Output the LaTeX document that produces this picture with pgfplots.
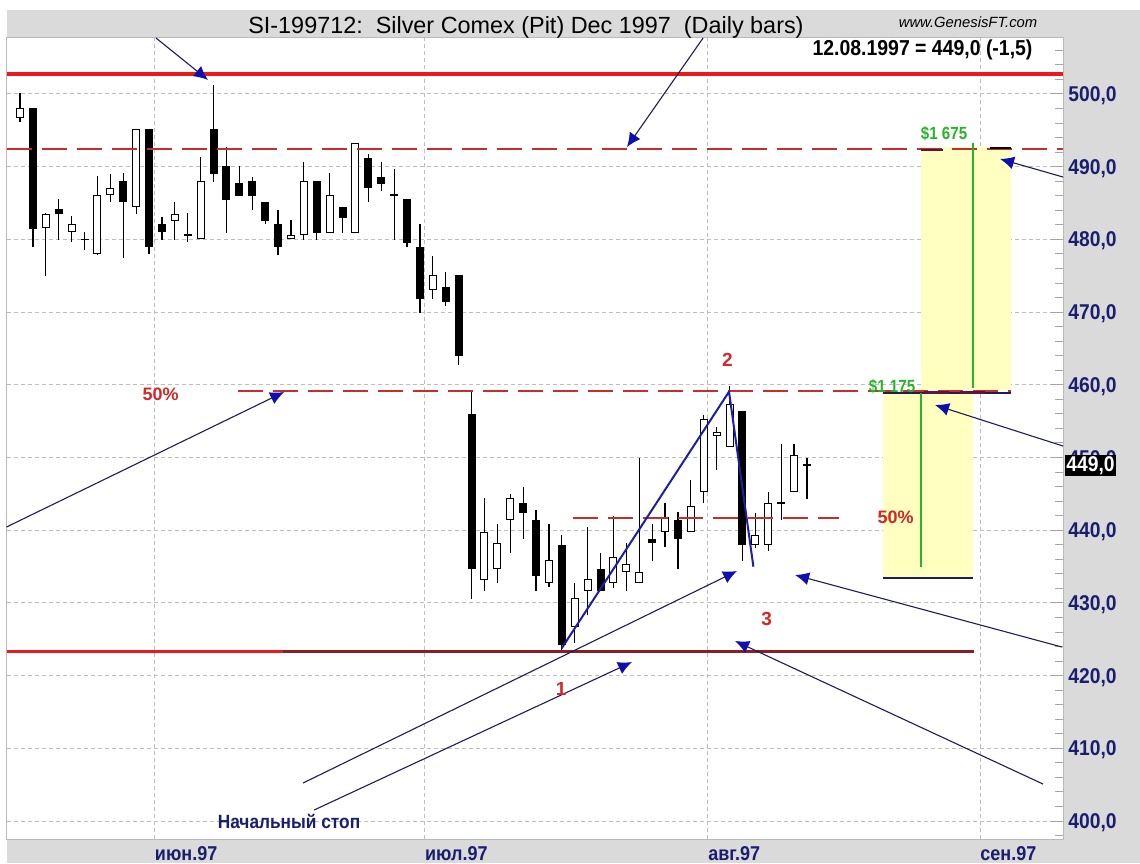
\documentclass[border=0pt]{standalone}
\usepackage{fontspec}
\setmainfont{Liberation Sans}
\newfontfamily\nrw{Liberation Sans}[FakeStretch=0.9]
\newfontfamily\nrwc{Liberation Sans}[FakeStretch=0.86]
\usepackage{pgfplots}
\usepackage{pgfplotstable}
\pgfplotsset{compat=1.18}
\usetikzlibrary{arrows.meta}

\definecolor{panel}{RGB}{218,218,218}
\definecolor{navy}{RGB}{25,30,110}
\definecolor{arrowblue}{RGB}{15,15,175}
\definecolor{trendblue}{RGB}{30,30,165}
\definecolor{thinnavy}{RGB}{30,30,85}
\definecolor{redline}{RGB}{235,25,25}
\definecolor{darkred}{RGB}{140,30,35}
\definecolor{dashred}{RGB}{200,45,45}
\definecolor{lyellow}{RGB}{255,255,192}
\definecolor{ggreen}{RGB}{40,180,40}
\definecolor{gridgray}{RGB}{190,190,190}
\definecolor{lblred}{RGB}{210,40,40}
\definecolor{darkpurple}{RGB}{90,20,70}

\tikzset{
  thinarrow/.style={draw=thinnavy, line width=0.55pt, -{Latex[length=7pt,width=6.5pt,color=arrowblue]}},
  reddash/.style={dashred, line width=1pt, dash pattern=on 12.5pt off 5pt}
}
\pgfplotsset{
  candle/.style={draw=none, no markers, forget plot,
    error bars/.cd, y dir=both, y explicit, error mark=none}
}

% daily bars: x = trading day index, o h l c
\pgfplotstableread{
x o h l c
1 498.1 498.1 478.9 481.4
3 484.2 485.6 479.9 483.5
5 480.1 481.0 478.5 479.9
8 488.1 489.1 477.5 485.1
10 495.2 495.2 478.0 479.0
11 482.1 483.1 479.9 481.0
13 480.7 483.6 479.6 480.5
15 495.2 501.3 487.9 489.0
16 490.1 492.7 480.9 485.4
17 487.7 490.1 486.0 486.0
18 488.1 488.6 484.0 486.0
19 485.2 485.2 482.1 482.5
20 482.1 484.1 477.9 479.0
23 488.1 488.1 479.9 480.9
25 484.5 484.5 480.9 483.0
27 491.2 491.8 485.1 487.0
28 488.6 490.7 486.6 487.6
29 486.2 489.7 479.9 486.0
30 485.5 485.5 479.0 479.5
31 479.0 482.1 469.9 471.8
33 473.5 475.5 470.8 471.4
34 475.1 475.1 462.7 464.0
35 456.0 459.1 430.6 434.6
39 443.8 446.0 438.8 442.3
40 441.4 442.8 431.7 433.7
42 437.9 439.3 423.5 424.2
45 434.7 436.9 431.7 431.7
49 438.8 440.9 435.7 438.2
51 441.4 442.5 434.6 438.8
56 456.4 456.4 435.8 437.9
59 443.9 451.9 441.4 443.7
61 449.1 449.9 444.3 448.9
}\blk

\pgfplotstableread{
x o h l c
0 496.7 500.1 496.1 498.1
2 481.5 483.6 475.0 483.5
4 481.0 483.2 479.6 482.1
6 478.0 488.7 477.8 486.1
7 486.1 489.0 485.1 487.1
9 484.5 495.2 483.5 495.2
12 482.5 485.1 479.9 483.5
14 480.0 491.3 480.0 488.1
21 480.0 482.6 480.0 480.6
22 480.6 490.7 479.9 488.1
24 480.9 489.2 480.9 486.1
26 480.9 493.2 480.9 493.2
32 473.1 477.7 471.8 475.1
36 433.2 444.4 431.7 439.8
37 434.6 440.8 432.7 438.2
38 441.4 445.0 436.8 444.4
41 432.8 440.8 432.2 435.9
43 426.7 432.8 424.5 430.7
44 431.7 440.5 428.3 433.3
46 432.7 441.9 432.1 436.3
47 434.3 438.2 431.7 435.3
48 432.7 449.9 432.7 434.3
50 439.8 443.8 437.7 441.8
52 439.8 446.9 439.8 443.3
53 445.3 455.9 443.7 455.3
54 452.9 454.2 448.3 453.5
55 451.4 459.8 451.4 457.3
57 437.9 442.3 437.5 439.3
58 437.9 445.3 437.2 443.7
60 445.3 451.9 445.3 450.4
}\wht

\begin{document}
\begin{tikzpicture}
\path[use as bounding box] (-3.25pt,-12pt) rectangle (566.75pt,419.5pt);
\fill[white] (-3.25pt,-12pt) rectangle (566.75pt,419.5pt);
\fill[panel] (0pt,400.5pt) rectangle (566.75pt,414.5pt);
\fill[panel] (528.25pt,-12pt) rectangle (566.75pt,414.5pt);
\fill[panel] (0pt,-12pt) rectangle (566.75pt,0pt);
\begin{axis}[
  at={(0pt,0pt)}, anchor=south west,
  scale only axis, width=528.25pt, height=400.5pt,
  xmin=-1.05, xmax=80.85, ymin=397.53, ymax=507.7,
  clip=false,
  axis line style={draw=gray!55, line width=0.5pt},
  xtick={10.43,31.37,53.33,74.42},
  xticklabels={июн.97,июл.97,авг.97,сен.97},
  xticklabel style={anchor=base west, inner sep=0pt, yshift=-10.5pt, text=navy,
    font=\nrw\bfseries\fontsize{10}{12}\selectfont},
  xtick style={draw=none},
  ytick={400,410,...,500},
  yticklabels={{400,0},{410,0},{420,0},{430,0},{440,0},{450,0},{460,0},{470,0},{480,0},{490,0},{500,0}},
  minor ytick={398,400,...,506},
  ytick pos=right, yticklabel pos=right,
  yticklabel style={anchor=base west, inner sep=0pt, xshift=2.5pt, yshift=-3.8pt, text=navy,
    font=\nrw\bfseries\fontsize{10.7}{12}\selectfont},
  tick align=inside,
  major tick length=6.5pt, minor tick length=4pt,
  ytick style={draw=gray!70, line width=0.5pt},
  every minor tick/.append style={draw=gray!70, line width=0.5pt},
  grid=major,
  major grid style={draw=gridgray, line width=0.5pt, dash pattern=on 2pt off 1.5pt},
]

% target zones
\addplot[draw=none, fill=lyellow, forget plot] coordinates {(69.84,459.28) (76.82,459.28) (76.82,492.71) (69.84,492.71)} -- cycle;
\addplot[draw=none, fill=lyellow, forget plot] coordinates {(66.90,433.56) (73.88,433.56) (73.88,458.87) (66.90,458.87)} -- cycle;

% wicks
\addplot[candle, error bar style={draw=black, solid, line width=0.6pt}]
  table[x=x, y expr={0.5*(\thisrow{h}+\thisrow{l})}, y error expr={0.5*(\thisrow{h}-\thisrow{l})}] {\blk};
\addplot[candle, error bar style={draw=black, solid, line width=0.6pt}]
  table[x=x, y expr={0.5*(\thisrow{h}+\thisrow{l})}, y error expr={0.5*(\thisrow{h}-\thisrow{l})}] {\wht};
% bodies
\addplot[candle, error bar style={draw=black, solid, line width=4pt}]
  table[x=x, y expr={0.5*(\thisrow{o}+\thisrow{c})}, y error expr={0.5*abs(\thisrow{o}-\thisrow{c})}] {\blk};
\addplot[candle, error bar style={draw=black, solid, line width=4pt}]
  table[x=x, y expr={0.5*(\thisrow{o}+\thisrow{c})}, y error expr={0.5*abs(\thisrow{o}-\thisrow{c})}] {\wht};
\addplot[candle, error bar style={draw=white, solid, line width=3pt}]
  table[x=x, y expr={0.5*(\thisrow{o}+\thisrow{c})}, y error expr={0.5*abs(\thisrow{o}-\thisrow{c})-0.14}] {\wht};

% horizontal levels
\addplot[redline, line width=1.6pt, forget plot] coordinates {(-1.05,502.75) (80.85,502.75)};
\addplot[reddash, forget plot] coordinates {(-1.05,492.43) (80.85,492.43)};
\addplot[reddash, forget plot] coordinates {(16.90,459.15) (76.82,459.15)};
\addplot[reddash, forget plot] coordinates {(42.87,441.7) (63.49,441.7)};
\addplot[redline, line width=1.5pt, forget plot] coordinates {(-1.05,423.3) (20.39,423.3)};
\addplot[darkred, line width=1.5pt, forget plot] coordinates {(20.39,423.3) (73.95,423.3)};

% zone edges
\addplot[thinnavy, line width=0.8pt, forget plot] coordinates {(66.90,458.87) (76.82,458.87)};
\addplot[darkpurple, line width=1.2pt, forget plot] coordinates {(70.1,458.95) (72.0,458.95)};
\addplot[darkpurple, line width=1.2pt, forget plot] coordinates {(72.9,458.95) (74.8,458.95)};
\addplot[thinnavy, line width=1pt, forget plot] coordinates {(66.90,433.43) (73.88,433.43)};
\addplot[darkpurple, line width=1.2pt, forget plot] coordinates {(69.84,492.3) (71.55,492.3)};
\addplot[black, line width=1.2pt, forget plot] coordinates {(75.19,492.55) (76.82,492.55)};
\addplot[ggreen, line width=1.2pt, forget plot] coordinates {(73.88,459.56) (73.88,493.26)};
\addplot[ggreen, line width=1.2pt, forget plot] coordinates {(69.84,458.87) (69.84,434.94)};

% swing lines
\addplot[trendblue, line width=1pt, forget plot] coordinates {(41.99,423.76) (54.96,459.05) (56.85,434.98)};

% pointer arrows
\addplot[thinarrow, forget plot] coordinates {(10.54,507.70) (14.57,501.93)};
\addplot[thinarrow, forget plot] coordinates {(52.95,507.70) (47.05,492.71)};
\addplot[thinarrow, forget plot] coordinates {(80.85,488.58) (75.97,491.06)};
\addplot[thinarrow, forget plot] coordinates {(-1.05,440.44) (20.47,459.01)};
\addplot[thinarrow, forget plot] coordinates {(80.85,451.58) (70.93,457.22)};
\addplot[thinarrow, forget plot] coordinates {(21.94,405.23) (55.58,434.39)};
\addplot[thinarrow, forget plot] coordinates {(22.79,401.51) (47.44,421.87)};
\addplot[thinarrow, forget plot] coordinates {(79.30,405.09) (55.43,424.76)};
\addplot[thinarrow, forget plot] coordinates {(80.78,423.93) (60.08,433.84)};

% texts
\node[anchor=base, font=\fontsize{11.7}{13}\selectfont] at (axis cs:39.22,508.35) {SI-199712:\ \ Silver Comex (Pit) Dec 1997\ \ (Daily bars)};
\node[anchor=base, font=\itshape\fontsize{7.4}{9}\selectfont] at (axis cs:73.49,509.08) {www.GenesisFT.com};
\node[anchor=base, font=\nrw\bfseries\fontsize{10.8}{12}\selectfont] at (axis cs:69.96,505.36) {12.08.1997 = 449,0 (-1,5)};
\node[anchor=base, text=lblred, font=\bfseries\fontsize{9.5}{11}\selectfont] at (axis cs:41.94,417.3) {1};
\node[anchor=base, text=lblred, font=\bfseries\fontsize{9.5}{11}\selectfont] at (axis cs:54.84,462.45) {2};
\node[anchor=base, text=lblred, font=\bfseries\fontsize{9.5}{11}\selectfont] at (axis cs:57.87,426.96) {3};
\node[anchor=base, text=lblred, font=\bfseries\fontsize{9}{11}\selectfont] at (axis cs:10.89,457.91) {50\%};
\node[anchor=base, text=lblred, font=\bfseries\fontsize{9}{11}\selectfont] at (axis cs:67.87,440.99) {50\%};
\node[anchor=base, text=ggreen, font=\nrwc\bfseries\fontsize{8.8}{10}\selectfont] at (axis cs:71.63,493.77) {\$1 675};
\node[anchor=base, text=ggreen, font=\nrwc\bfseries\fontsize{8.8}{10}\selectfont] at (axis cs:67.6,458.91) {\$1 175};
\node[anchor=base, text=navy, font=\nrw\bfseries\fontsize{9.6}{11}\selectfont] at (axis cs:20.85,399.04) {Начальный стоп};
\end{axis}
\node[fill=black, text=white, inner sep=0.8pt, minimum width=25.5pt, minimum height=10.5pt,
  font=\nrw\bfseries\fontsize{10.7}{12}\selectfont] at (542pt,186.75pt) {449,0};
\end{tikzpicture}
\end{document}
